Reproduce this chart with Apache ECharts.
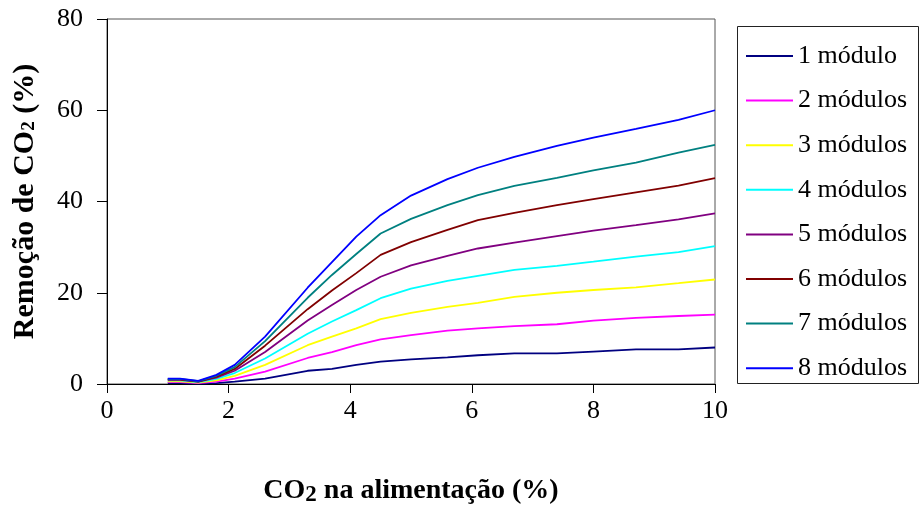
<!DOCTYPE html>
<html>
<head>
<meta charset="utf-8">
<script src="https://cdn.jsdelivr.net/npm/echarts@6/dist/echarts.min.js"></script>
<style>
  html, body { margin: 0; padding: 0; background: #fff; }
  #chart { width: 919px; height: 505px; }
</style>
</head>
<body>
<div id="chart"></div>
<script>
// CO2 concentration in the feed (%)
const co2Feed = [1.0, 1.2, 1.5, 1.8, 2.1, 2.6, 3.3, 3.7, 4.1, 4.5, 5.0, 5.6, 6.1, 6.7, 7.4, 8.0, 8.7, 9.4, 10.0];

// CO2 removal (%) for each number of modules
const mod1 = [0.2, 0.2, 0.1, 0.2, 0.5, 1.2, 2.9, 3.3, 4.2, 4.9, 5.4, 5.85, 6.3, 6.7, 6.7, 7.1, 7.6, 7.6, 8.0];
const mod2 = [0.4, 0.4, 0.2, 0.5, 1.2, 2.7, 5.7, 7.0, 8.5, 9.8, 10.7, 11.7, 12.2, 12.7, 13.1, 13.9, 14.5, 14.9, 15.2];
const mod3 = [0.6, 0.6, 0.3, 0.8, 1.8, 4.2, 8.5, 10.4, 12.2, 14.2, 15.6, 16.9, 17.8, 19.1, 20.0, 20.6, 21.2, 22.1, 22.9];
const mod4 = [0.8, 0.8, 0.4, 1.1, 2.4, 5.6, 11.0, 13.7, 16.2, 18.8, 20.9, 22.6, 23.7, 25.0, 25.9, 26.8, 27.9, 28.9, 30.2];
const mod5 = [0.9, 0.9, 0.5, 1.4, 2.9, 7.0, 13.9, 17.3, 20.6, 23.5, 26.0, 28.1, 29.7, 31.0, 32.4, 33.6, 34.8, 36.1, 37.4];
const mod6 = [1.0, 1.0, 0.5, 1.6, 3.3, 8.4, 16.4, 20.5, 24.3, 28.3, 31.1, 33.8, 35.9, 37.5, 39.2, 40.5, 42.0, 43.5, 45.1];
const mod7 = [1.1, 1.1, 0.6, 1.8, 3.7, 9.4, 18.9, 23.9, 28.5, 33.0, 36.2, 39.2, 41.4, 43.4, 45.2, 46.8, 48.5, 50.7, 52.4];
const mod8 = [1.2, 1.2, 0.7, 2.0, 4.2, 10.4, 21.1, 26.7, 32.3, 37.0, 41.3, 44.9, 47.4, 49.8, 52.2, 54.0, 55.9, 57.9, 60.0];

const seriesNames = ['1 módulo', '2 módulos', '3 módulos', '4 módulos', '5 módulos', '6 módulos', '7 módulos', '8 módulos'];
const seriesValues = [mod1, mod2, mod3, mod4, mod5, mod6, mod7, mod8];
const seriesColors = ['#000080', '#FF00FF', '#FFFF00', '#00FFFF', '#800080', '#800000', '#008080', '#0000FF'];

const FONT = '"Liberation Serif", "Times New Roman", serif';

const chart = echarts.init(document.getElementById('chart'), null, { renderer: 'canvas' });

const series = seriesNames.map((name, i) => ({
  name: name,
  type: 'line',
  symbol: 'none',
  smooth: false,
  data: co2Feed.map((x, j) => [x, seriesValues[i][j]]),
  lineStyle: { color: seriesColors[i], width: 1.8 },
  itemStyle: { color: seriesColors[i] },
  emphasis: { disabled: true },
  z: 2 + i
}));

chart.setOption({
  animation: false,
  backgroundColor: '#fff',
  grid: {
    left: 107, right: 204, top: 19, bottom: 121,
    outerBoundsMode: 'none',
    containLabel: false,
    show: true, borderColor: '#555', borderWidth: 1, backgroundColor: 'transparent'
  },
  graphic: [{
    type: 'rect',
    shape: { x: 737.5, y: 26.5, width: 181, height: 357 },
    style: { fill: '#fff', stroke: '#222', lineWidth: 1 },
    z: 0
  }],
  legend: {
    orient: 'vertical',
    left: 737, top: 26,
    padding: [17, 8, 4, 9],
    icon: 'rect',
    itemWidth: 47, itemHeight: 2,
    itemGap: 18.6,
    data: seriesNames,
    textStyle: { fontFamily: FONT, fontSize: 26, color: '#000' },
    z: 5
  },
  xAxis: {
    type: 'value',
    min: 0, max: 10, interval: 2,
    name: '{b|CO}{s|2}{b| na alimentação (%)}',
    nameLocation: 'middle',
    nameGap: 92,
    nameTextStyle: {
      rich: {
        b: { fontFamily: FONT, fontSize: 28, fontWeight: 'bold', color: '#000', lineHeight: 30 },
        s: { fontFamily: FONT, fontSize: 23, fontWeight: 'bold', color: '#000', lineHeight: 30, padding: [8, 0, 0, 0] }
      }
    },
    axisLine: { show: true, lineStyle: { color: '#000', width: 1 } },
    axisTick: { show: true, inside: false, length: 9, lineStyle: { color: '#000' } },
    axisLabel: { fontFamily: FONT, fontSize: 26, color: '#000', margin: 14 },
    splitLine: { show: false }
  },
  yAxis: {
    type: 'value',
    min: 0, max: 80, interval: 20,
    name: '{b|Remoção de CO}{s|2}{b| (%)}',
    nameLocation: 'middle',
    nameRotate: 90,
    nameGap: 66,
    nameTextStyle: {
      rich: {
        b: { fontFamily: FONT, fontSize: 30, fontWeight: 'bold', color: '#000', lineHeight: 32 },
        s: { fontFamily: FONT, fontSize: 19, fontWeight: 'bold', color: '#000', lineHeight: 32, padding: [9, 0, 0, 0] }
      }
    },
    axisLine: { show: true, lineStyle: { color: '#000', width: 1 } },
    axisTick: { show: true, inside: false, length: 10, lineStyle: { color: '#000' } },
    axisLabel: { fontFamily: FONT, fontSize: 26, color: '#000', margin: 24 },
    splitLine: { show: false }
  },
  series: series
});
</script>
</body>
</html>
